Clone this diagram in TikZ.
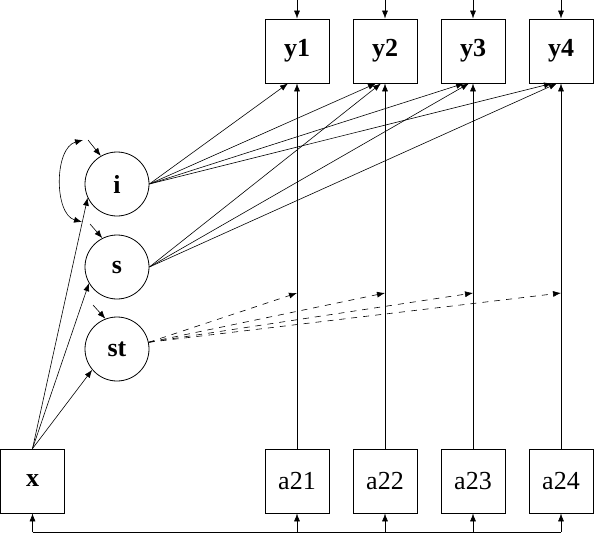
\documentclass[tikz,border=0pt]{standalone}
\usepackage{fontspec}
\setmainfont{Liberation Serif}
\usetikzlibrary{arrows.meta,calc}
\begin{document}
\begin{tikzpicture}[x=1pt,y=-1pt,
  obs/.style={draw,line width=0.8pt,minimum width=64pt,minimum height=64pt,inner sep=0pt,font=\fontsize{26}{28}\selectfont\bfseries},
  cov/.style={draw,line width=0.8pt,minimum width=64pt,minimum height=64pt,inner sep=0pt,font=\fontsize{26}{28}\selectfont},
  lat/.style={draw,circle,line width=0.8pt,minimum size=64pt,inner sep=0pt,font=\fontsize{26}{28}\selectfont\bfseries},
  path/.style={line width=0.6pt,-{Latex[length=8pt,width=6pt]}},
  dpath/.style={path,dash pattern=on 6pt off 6pt},
  both/.style={line width=0.6pt,{Latex[length=8pt,width=6pt]}-{Latex[length=8pt,width=6pt]}}]
\useasboundingbox (0,0) rectangle (594,535);
% observed outcomes
\node[obs] (y1) at (297,51) {y1};
\node[obs] (y2) at (385,51) {y2};
\node[obs] (y3) at (473,51) {y3};
\node[obs] (y4) at (561,51) {y4};
% covariates
\node[obs] (x) at (32.5,481) {x};
\node[cov] (a21) at (297,481) {a21};
\node[cov] (a22) at (385,481) {a22};
\node[cov] (a23) at (473,481) {a23};
\node[cov] (a24) at (561,481) {a24};
% latent
\node[lat] (i) at (117,184) {i};
\node[lat] (s) at (117,267) {s};
\node[lat] (st) at (117,349) {st};
% residual arrows on y
\foreach \k/\xx in {1/297,2/385,3/473,4/561}{
  \coordinate (r\k) at (\xx,0);
  \draw[path] (r\k) -- (y\k.north);
  \draw[path] (a2\k.north) -- (y\k.south);
  \coordinate (m\k) at (\xx,293);
  \coordinate (b\k) at (\xx,532);
  \draw[path] (b\k) -- (a2\k.south);
}
% i -> y
\foreach \k in {1,2,3,4}{
  \draw[path] (i.east) -- ([xshift=-9pt]y\k.south);
}
% s -> y
\foreach \k in {2,3,4}{
  \draw[path] (s.east) -- ([xshift=-4pt]y\k.south);
}
% st -> interaction points
\foreach \k in {1,2,3,4}{
  \draw[dpath] (st.12) -- (m\k);
}
% x -> latent
\draw[path] (x.north) -- (i.205);
\draw[path] (x.north) -- (s.210);
\draw[path] (x.north) -- (st.220);
% bottom covariance line
\coordinate (b0) at (32.5,532);
\draw[line width=0.6pt] (b0) -- (b4);
\draw[path] (b0) -- (x.south);
% residuals and covariance of latent
\coordinate (ri) at (88,140);
\coordinate (rs) at (90,224);
\coordinate (rst) at (93,305);
\coordinate (ci) at (83,140);
\coordinate (cs) at (82,222);
\draw[path] (ri) -- (i.120);
\draw[path] (rs) -- (s.117);
\draw[path] (rst) -- (st.111);
\draw[both] (ci) .. controls (54,148) and (54,214) .. (cs);
\end{tikzpicture}
\end{document}
